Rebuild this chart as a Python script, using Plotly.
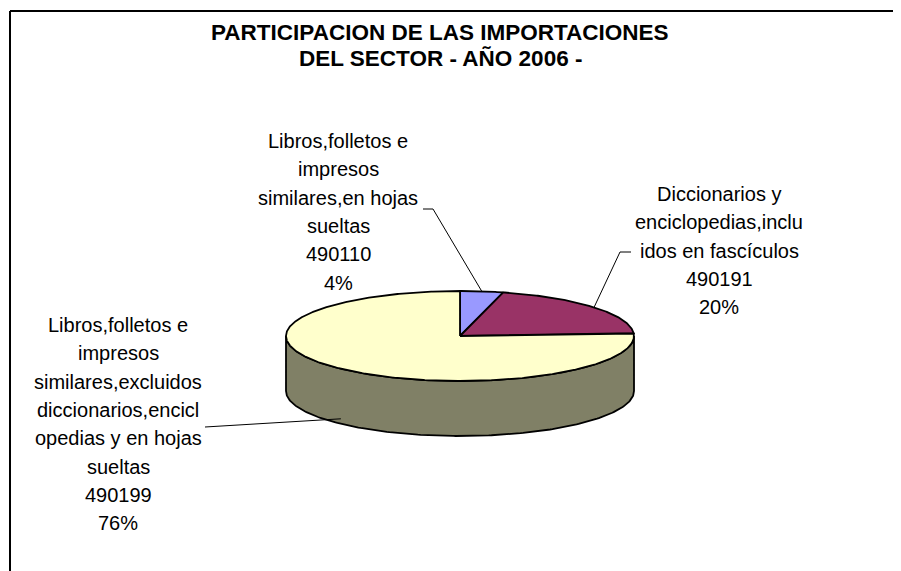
import numpy as np
import plotly.graph_objects as go

# ---------------- data ----------------
codes = ["490110", "490191", "490199"]
shares = [4, 20, 76]
label_lines = [
    ["Libros,folletos e", "impresos", "similares,en hojas", "sueltas"],
    ["Diccionarios y", "enciclopedias,inclu", "idos en fascículos"],
    ["Libros,folletos e", "impresos", "similares,excluidos", "diccionarios,encicl",
     "opedias y en hojas", "sueltas"],
]
title_lines = ["PARTICIPACION DE LAS IMPORTACIONES", "DEL SECTOR - AÑO 2006 -"]

# ---------------- style / layout ----------------
top_colors = ["#9999FF", "#993366", "#FFFFCC"]
side_colors = ["#4D4D80", "#4D1A33", "#808066"]
W, H = 901, 571
OFF = 8  # default page body margin
CX, CY, RX, RY, DEPTH = 460, 336, 174, 45, 55
FONT = "Liberation Sans, Arial, sans-serif"
label_pos = [(338, 141), (719, 194), (118, 325)]   # centre x, first line y
PITCH = 28.3

def pt(deg, dy=0.0):
    r = np.radians(deg)
    return CX + RX * np.sin(r), CY - RY * np.cos(r) + dy

fig = go.Figure()

total = float(sum(shares))
bounds = np.concatenate([[0], np.cumsum(shares)]) / total * 360.0

# side walls (front half only: 90..270 deg clockwise from top)
for i in range(len(shares)):
    a0, a1 = max(bounds[i], 90), min(bounds[i + 1], 270)
    if a1 <= a0:
        continue
    ang = np.linspace(a0, a1, 200)
    xt, yt = pt(ang)
    xb, yb = pt(ang[::-1], DEPTH)
    xs = np.concatenate([xt, xb, xt[:1]])
    ys = np.concatenate([yt, yb, yt[:1]])
    fig.add_trace(go.Scatter(x=xs, y=ys, mode="lines", fill="toself",
                             fillcolor=side_colors[i],
                             line=dict(color="black", width=1.8),
                             hoverinfo="skip", showlegend=False))

# top faces
for i in range(len(shares)):
    n = max(int((bounds[i + 1] - bounds[i]) * 2), 10)
    ang = np.linspace(bounds[i], bounds[i + 1], n)
    xa, ya = pt(ang)
    xs = np.concatenate([[CX], xa, [CX]])
    ys = np.concatenate([[CY], ya, [CY]])
    fig.add_trace(go.Scatter(x=xs, y=ys, mode="lines", fill="toself",
                             fillcolor=top_colors[i],
                             line=dict(color="black", width=1.8),
                             hoverinfo="skip", showlegend=False))

# leader lines, anchored at slice mid-angles
mids = (bounds[:-1] + bounds[1:]) / 2
e0 = pt(mids[0]); e1 = pt(mids[1]); e2 = pt(mids[2], DEPTH - 5)
leaders = [
    ([423, 433, e0[0]], [209, 209, e0[1]]),
    ([e1[0], 620, 631], [e1[1], 252, 252]),
    ([205, e2[0]], [427, e2[1]]),
]
for lx, ly in leaders:
    fig.add_trace(go.Scatter(x=lx, y=ly, mode="lines",
                             line=dict(color="black", width=1),
                             hoverinfo="skip", showlegend=False))

annotations = []
for i, lines in enumerate(label_lines):
    pct = f"{shares[i] / total * 100:.0f}%"
    full = lines + [codes[i], pct]
    x0, y0 = label_pos[i]
    for k, t in enumerate(full):
        annotations.append(dict(x=x0, y=y0 + k * PITCH, xref="x", yref="y", text=t,
                                showarrow=False, xanchor="center", yanchor="middle",
                                font=dict(family=FONT, size=20, color="black")))
for k, t in enumerate(title_lines):
    annotations.append(dict(x=440, y=32.5 + k * 26, xref="x", yref="y",
                            text=f"<b>{t}</b>", showarrow=False,
                            xanchor="center", yanchor="middle",
                            font=dict(family=FONT, size=22.5, color="black")))

fig.update_layout(
    width=W - OFF, height=H - OFF, margin=dict(l=0, r=0, t=0, b=0),
    paper_bgcolor="white", plot_bgcolor="white",
    xaxis=dict(range=[OFF, W], visible=False, fixedrange=True),
    yaxis=dict(range=[H, OFF], visible=False, fixedrange=True),
    annotations=annotations,
    shapes=[
        dict(type="line", xref="x", yref="y", x0=10, y0=11, x1=10, y1=H + 5,
             line=dict(color="black", width=2)),
        dict(type="line", xref="x", yref="y", x0=10, y0=11, x1=W + 5, y1=11,
             line=dict(color="black", width=2)),
    ],
)

fig.write_html("out.html")
